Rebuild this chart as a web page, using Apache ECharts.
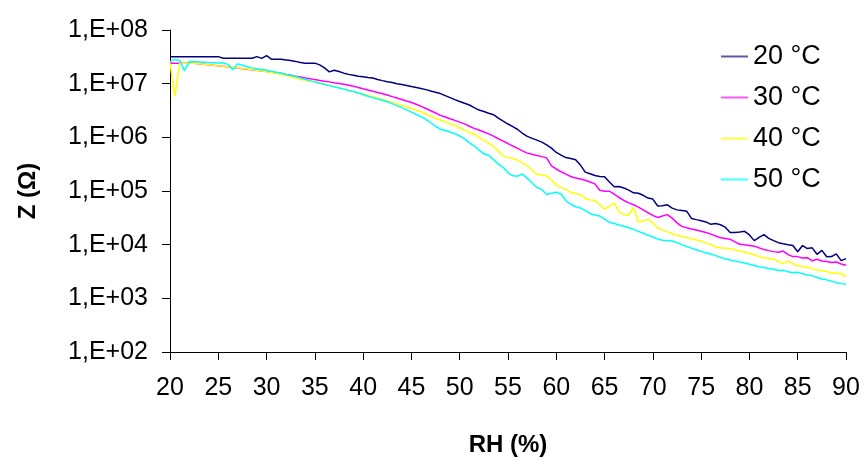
<!DOCTYPE html>
<html>
<head>
<meta charset="utf-8">
<script src="https://cdn.jsdelivr.net/npm/echarts@6/dist/echarts.min.js"></script>
<style>
  html, body { margin: 0; padding: 0; background: #fff; }
  #chart { width: 866px; height: 462px; }
</style>
</head>
<body>
<div id="chart"></div>
<script>
// Relative humidity (%) at which impedance was sampled
const rh = [
  20, 20.5, 21, 21.5, 22, 22.5, 23, 23.5, 24, 24.5, 25, 25.5, 26, 26.5, 27, 27.5, 28, 28.5, 29, 29.5,
  30, 30.5, 31, 31.5, 32, 32.5, 33, 33.5, 34, 34.5, 35, 35.5, 36, 36.5, 37, 37.5, 38, 38.5, 39, 39.5,
  40, 40.5, 41, 41.5, 42, 42.5, 43, 43.5, 44, 44.5, 45, 45.5, 46, 46.5, 47, 47.5, 48, 48.5, 49, 49.5,
  50, 50.5, 51, 51.5, 52, 52.5, 53, 53.5, 54, 54.5, 55, 55.5, 56, 56.5, 57, 57.5, 58, 58.5, 59, 59.5,
  60, 60.5, 61, 61.5, 62, 62.5, 63, 63.5, 64, 64.5, 65, 65.5, 66, 66.5, 67, 67.5, 68, 68.5, 69, 69.5,
  70, 70.5, 71, 71.5, 72, 72.5, 73, 73.5, 74, 74.5, 75, 75.5, 76, 76.5, 77, 77.5, 78, 78.5, 79, 79.5,
  80, 80.5, 81, 81.5, 82, 82.5, 83, 83.5, 84, 84.5, 85, 85.5, 86, 86.5, 87, 87.5, 88, 88.5, 89, 89.5,
  90
];

// Impedance Z (ohm) at 20 °C
const z20 = [
  3.19e7, 3.19e7, 3.19e7, 3.19e7, 3.19e7, 3.19e7, 3.19e7, 3.19e7, 3.19e7, 3.19e7,
  3.19e7, 2.98e7, 2.98e7, 2.98e7, 2.98e7, 2.98e7, 2.98e7, 2.98e7, 3.19e7, 2.96e7,
  3.33e7, 2.86e7, 2.86e7, 2.84e7, 2.77e7, 2.69e7, 2.60e7, 2.47e7, 2.41e7, 2.41e7,
  2.41e7, 2.24e7, 1.97e7, 1.66e7, 1.78e7, 1.68e7, 1.57e7, 1.49e7, 1.44e7, 1.38e7,
  1.34e7, 1.30e7, 1.27e7, 1.20e7, 1.14e7, 1.09e7, 1.05e7, 1.00e7, 9.68e6, 9.27e6,
  8.85e6, 8.47e6, 8.09e6, 7.74e6, 7.30e6, 6.90e6, 6.53e6, 6.00e6, 5.50e6, 5.05e6,
  4.66e6, 4.31e6, 4.01e6, 3.59e6, 3.22e6, 3.02e6, 2.81e6, 2.64e6, 2.27e6, 2.00e6,
  1.77e6, 1.58e6, 1.40e6, 1.19e6, 1.04e6, 9.56e5, 8.86e5, 8.13e5, 7.21e5, 6.29e5,
  5.23e5, 4.66e5, 4.19e5, 4.02e5, 3.81e5, 3.04e5, 2.25e5, 2.09e5, 1.94e5, 1.87e5,
  1.84e5, 1.47e5, 1.20e5, 1.21e5, 1.14e5, 1.04e5, 9.25e4, 9.06e4, 8.31e4, 7.38e4,
  7.07e4, 5.26e4, 5.31e4, 5.54e4, 4.79e4, 4.45e4, 4.34e4, 4.21e4, 3.08e4, 2.93e4,
  2.79e4, 2.65e4, 2.39e4, 2.47e4, 2.35e4, 2.12e4, 1.68e4, 1.69e4, 1.72e4, 1.77e4,
  1.52e4, 1.19e4, 1.37e4, 1.54e4, 1.31e4, 1.19e4, 1.09e4, 1.04e4, 9.97e3, 9.63e3,
  7.39e3, 9.63e3, 8.47e3, 8.73e3, 6.61e3, 7.84e3, 5.94e3, 5.99e3, 6.75e3, 5.05e3,
  5.50e3
];

// Impedance Z (ohm) at 30 °C
const z30 = [
  2.41e7, 2.41e7, 2.41e7, 2.41e7, 2.41e7, 2.40e7, 2.35e7, 2.30e7, 2.25e7, 2.20e7,
  2.16e7, 2.12e7, 2.06e7, 2.01e7, 1.96e7, 1.90e7, 1.85e7, 1.81e7, 1.77e7, 1.72e7,
  1.68e7, 1.64e7, 1.60e7, 1.56e7, 1.49e7, 1.43e7, 1.37e7, 1.33e7, 1.28e7, 1.24e7,
  1.19e7, 1.15e7, 1.11e7, 1.08e7, 1.04e7, 1.01e7, 9.72e6, 9.35e6, 8.92e6, 8.47e6,
  8.02e6, 7.62e6, 7.20e6, 6.84e6, 6.50e6, 6.15e6, 5.74e6, 5.39e6, 5.05e6, 4.76e6,
  4.46e6, 4.13e6, 3.78e6, 3.44e6, 3.13e6, 2.84e6, 2.57e6, 2.39e6, 2.22e6, 2.07e6,
  1.92e6, 1.78e6, 1.61e6, 1.47e6, 1.37e6, 1.26e6, 1.16e6, 1.05e6, 9.40e5, 8.49e5,
  7.66e5, 6.88e5, 6.23e5, 5.61e5, 5.08e5, 4.82e5, 4.58e5, 4.37e5, 4.14e5, 2.93e5,
  2.57e5, 2.28e5, 2.06e5, 1.86e5, 1.74e5, 1.67e5, 1.59e5, 1.47e5, 1.36e5, 1.03e5,
  9.91e4, 9.91e4, 8.72e4, 7.57e4, 6.66e4, 6.01e4, 5.54e4, 5.02e4, 4.44e4, 3.93e4,
  3.50e4, 3.22e4, 3.43e4, 3.63e4, 3.12e4, 2.55e4, 2.19e4, 2.06e4, 1.96e4, 1.87e4,
  1.78e4, 1.69e4, 1.57e4, 1.45e4, 1.34e4, 1.30e4, 1.26e4, 1.13e4, 1.02e4, 9.92e3,
  9.67e3, 9.39e3, 8.73e3, 8.11e3, 7.74e3, 7.42e3, 7.20e3, 7.61e3, 6.53e3, 5.99e3,
  5.99e3, 5.64e3, 5.71e3, 5.00e3, 5.34e3, 4.96e3, 4.84e3, 4.65e3, 4.74e3, 4.37e3,
  4.13e3
];

// Impedance Z (ohm) at 40 °C
const z40 = [
  2.47e7, 5.77e6, 2.41e7, 2.41e7, 2.41e7, 2.40e7, 2.36e7, 2.31e7, 2.26e7, 2.21e7,
  2.16e7, 2.12e7, 2.07e7, 2.02e7, 1.97e7, 1.92e7, 1.87e7, 1.83e7, 1.78e7, 1.73e7,
  1.67e7, 1.62e7, 1.56e7, 1.50e7, 1.42e7, 1.35e7, 1.28e7, 1.21e7, 1.16e7, 1.11e7,
  1.07e7, 1.03e7, 9.72e6, 9.23e6, 8.81e6, 8.37e6, 7.91e6, 7.52e6, 7.17e6, 6.78e6,
  6.42e6, 6.04e6, 5.72e6, 5.39e6, 5.07e6, 4.76e6, 4.48e6, 4.20e6, 3.94e6, 3.68e6,
  3.44e6, 3.21e6, 3.00e6, 2.72e6, 2.46e6, 2.25e6, 2.10e6, 1.94e6, 1.79e6, 1.67e6,
  1.51e6, 1.36e6, 1.24e6, 1.13e6, 9.94e5, 8.78e5, 7.83e5, 6.77e5, 5.53e5, 4.47e5,
  4.23e5, 4.03e5, 3.76e5, 3.34e5, 2.94e5, 2.44e5, 2.03e5, 1.98e5, 1.91e5, 1.60e5,
  1.30e5, 1.17e5, 1.07e5, 9.46e4, 8.98e4, 8.53e4, 7.31e4, 6.83e4, 6.69e4, 5.54e4,
  4.59e4, 5.22e4, 5.93e4, 4.07e4, 3.66e4, 3.54e4, 5.00e4, 2.65e4, 2.75e4, 2.99e4,
  2.54e4, 2.05e4, 1.89e4, 1.75e4, 1.60e4, 1.50e4, 1.43e4, 1.36e4, 1.29e4, 1.22e4,
  1.16e4, 1.08e4, 1.01e4, 9.03e3, 8.73e3, 8.54e3, 8.43e3, 8.05e3, 7.64e3, 7.26e3,
  6.84e3, 6.50e3, 5.99e3, 5.71e3, 5.50e3, 5.38e3, 4.86e3, 4.44e3, 4.94e3, 4.44e3,
  4.01e3, 3.91e3, 3.81e3, 3.58e3, 3.38e3, 3.25e3, 3.15e3, 2.97e3, 2.96e3, 2.87e3,
  2.55e3
];

// Impedance Z (ohm) at 50 °C
const z50 = [
  2.58e7, 2.83e7, 2.71e7, 1.75e7, 2.58e7, 2.56e7, 2.53e7, 2.50e7, 2.47e7, 2.46e7,
  2.44e7, 2.42e7, 2.29e7, 1.81e7, 2.34e7, 2.20e7, 2.06e7, 1.97e7, 1.89e7, 1.83e7,
  1.77e7, 1.70e7, 1.64e7, 1.57e7, 1.48e7, 1.42e7, 1.36e7, 1.28e7, 1.21e7, 1.14e7,
  1.08e7, 1.02e7, 9.72e6, 9.19e6, 8.73e6, 8.33e6, 7.91e6, 7.48e6, 7.14e6, 6.70e6,
  6.26e6, 5.84e6, 5.50e6, 5.20e6, 4.90e6, 4.62e6, 4.24e6, 3.89e6, 3.57e6, 3.25e6,
  2.95e6, 2.66e6, 2.40e6, 2.17e6, 1.87e6, 1.61e6, 1.42e6, 1.34e6, 1.26e6, 1.17e6,
  1.06e6, 9.36e5, 7.99e5, 6.88e5, 5.77e5, 4.93e5, 4.64e5, 3.85e5, 3.17e5, 2.77e5,
  2.18e5, 1.92e5, 1.89e5, 2.07e5, 1.72e5, 1.41e5, 1.16e5, 1.07e5, 8.61e4, 9.06e4,
  9.49e4, 8.79e4, 6.57e4, 5.66e4, 5.09e4, 4.83e4, 4.30e4, 3.82e4, 3.58e4, 3.42e4,
  2.98e4, 2.62e4, 2.47e4, 2.32e4, 2.21e4, 2.06e4, 1.93e4, 1.77e4, 1.63e4, 1.50e4,
  1.39e4, 1.27e4, 1.21e4, 1.19e4, 1.17e4, 1.09e4, 1.00e4, 9.23e3, 8.62e3, 8.05e3,
  7.51e3, 7.02e3, 6.72e3, 6.25e3, 5.79e3, 5.41e3, 5.16e3, 4.94e3, 4.74e3, 4.56e3,
  4.31e3, 4.08e3, 3.87e3, 3.74e3, 3.60e3, 3.48e3, 3.31e3, 3.32e3, 3.13e3, 3.00e3,
  3.07e3, 2.86e3, 2.73e3, 2.65e3, 2.45e3, 2.30e3, 2.21e3, 2.09e3, 1.96e3, 1.88e3,
  1.83e3
];

const seriesNames = ['20 °C', '30 °C', '40 °C', '50 °C'];
const seriesColors = ['#000080', '#FF00FF', '#FFFF00', '#00FFFF'];
const legendColors = ['#5A5AA8', '#FF55FF', '#FFFF40', '#40FFFF'];
const seriesValues = [z20, z30, z40, z50];

// Y tick labels, one per decade from 1e2 to 1e8
const yTickLabels = ['1,E+02', '1,E+03', '1,E+04', '1,E+05', '1,E+06', '1,E+07', '1,E+08'];

const FONT = "'Liberation Sans', Arial, sans-serif";

const chart = echarts.init(document.getElementById('chart'), null, { renderer: 'canvas' });

chart.setOption({
  animation: false,
  backgroundColor: '#ffffff',
  textStyle: { fontFamily: FONT, color: '#000' },
  grid: { left: 170, right: 20, top: 30, bottom: 109, containLabel: false },
  legend: {
    orient: 'vertical',
    left: 716,
    top: 38,
    icon: 'rect',
    itemWidth: 27,
    itemHeight: 2,
    itemGap: 14,
    textStyle: { fontFamily: FONT, fontSize: 27, color: '#000' },
    data: seriesNames.map(function (n, i) {
      return { name: n, itemStyle: { color: legendColors[i] } };
    })
  },
  xAxis: {
    type: 'value',
    min: 20,
    max: 90,
    interval: 5,
    name: 'RH (%)',
    nameLocation: 'middle',
    nameGap: 81,
    nameTextStyle: { fontFamily: FONT, fontSize: 24, fontWeight: 'bold', color: '#000' },
    axisLine: { onZero: false, lineStyle: { color: '#000', width: 1 } },
    axisTick: { show: true, inside: false, length: 8, lineStyle: { color: '#000' } },
    axisLabel: { fontFamily: FONT, fontSize: 25, color: '#000', margin: 24 },
    splitLine: { show: false }
  },
  yAxis: {
    type: 'log',
    logBase: 10,
    min: 1e2,
    max: 1e8,
    name: 'Z (Ω)',
    nameLocation: 'middle',
    nameGap: 130,
    nameRotate: 90,
    nameTextStyle: { fontFamily: FONT, fontSize: 24, fontWeight: 'bold', color: '#000' },
    axisLine: { show: true, lineStyle: { color: '#000', width: 1 } },
    axisTick: { show: true, inside: false, length: 8, lineStyle: { color: '#000' } },
    axisLabel: {
      fontFamily: FONT, fontSize: 25, color: '#000', margin: 22,
      formatter: function (v) {
        const e = Math.round(Math.log10(v));
        return yTickLabels[e - 2];
      }
    },
    splitLine: { show: false }
  },
  series: seriesNames.map(function (name, i) {
    return {
      name: name,
      type: 'line',
      symbol: 'none',
      showSymbol: false,
      color: seriesColors[i],
      lineStyle: { color: seriesColors[i], width: 1.5 },
      data: rh.map(function (x, k) { return [x, seriesValues[i][k]]; })
    };
  })
});
</script>
</body>
</html>
